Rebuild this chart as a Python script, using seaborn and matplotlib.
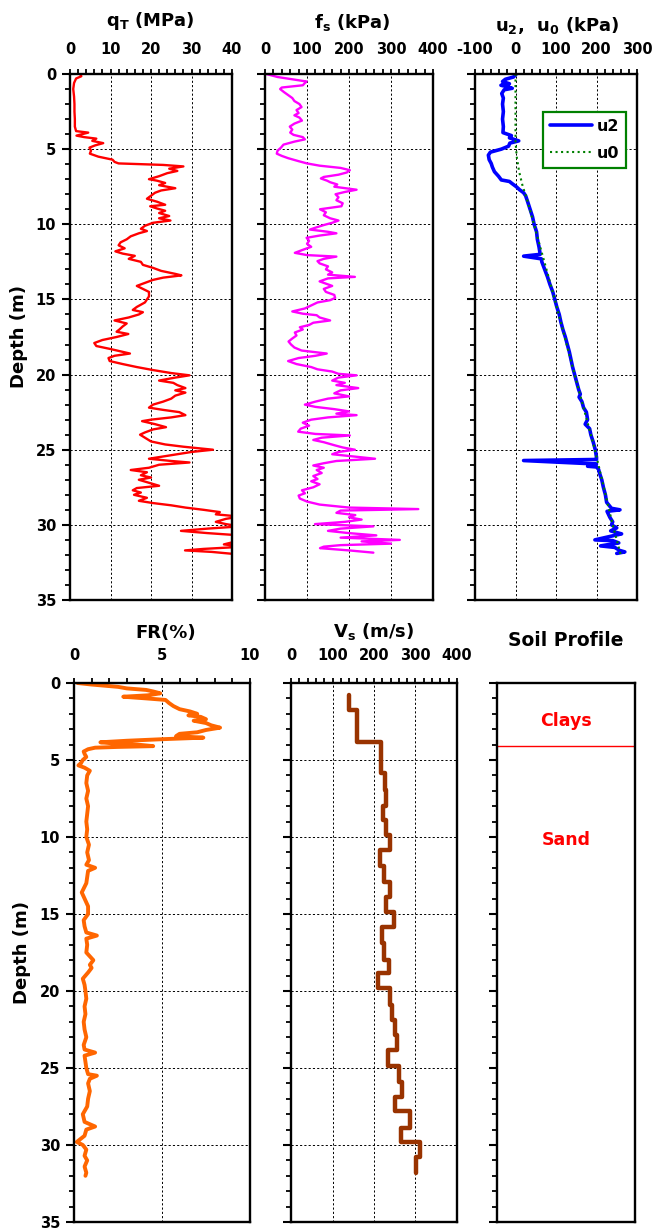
import numpy as np
import pandas as pd
import matplotlib
matplotlib.use('Agg')
import matplotlib.pyplot as plt
from matplotlib.ticker import MultipleLocator
import seaborn as sns

# ---------------- data ----------------
qt_depth = [0.0, 0.15, 0.3, 0.6, 1.0, 1.5, 2.0, 2.5, 3.0, 3.5, 3.8, 3.9, 4.0, 4.1, 4.2, 4.3, 4.45, 4.6, 4.75, 4.9,
            5.1, 5.3, 5.5, 5.7, 5.85, 5.95, 6.05, 6.15, 6.3, 6.45, 6.6, 6.8, 7.0, 7.1, 7.25, 7.4, 7.6, 7.75, 7.9,
            8.1, 8.3, 8.5, 8.7, 8.8, 8.95, 9.1, 9.25, 9.45, 9.6, 9.75, 9.9, 10.1, 10.3, 10.45, 10.6, 10.8, 11.0,
            11.2, 11.4, 11.6, 11.8, 11.95, 12.1, 12.3, 12.5, 12.7, 12.9, 13.1, 13.3, 13.4, 13.55, 13.7, 13.9, 14.1,
            14.3, 14.5, 14.8, 15.0, 15.2, 15.5, 15.7, 15.85, 16.0, 16.2, 16.4, 16.6, 16.8, 17.0, 17.15, 17.3, 17.5,
            17.7, 17.9, 18.1, 18.3, 18.6, 18.75, 18.9, 19.1, 19.3, 19.5, 19.7, 19.9, 20.05, 20.2, 20.4, 20.55,
            20.7, 20.9, 21.05, 21.2, 21.4, 21.6, 21.8, 22.0, 22.2, 22.35, 22.5, 22.7, 22.85, 23.0, 23.1, 23.3,
            23.5, 23.65, 23.85, 24.0, 24.2, 24.45, 24.65, 24.8, 25.0, 25.15, 25.3, 25.45, 25.6, 25.75, 25.85,
            26.0, 26.2, 26.35, 26.5, 26.7, 26.85, 27.0, 27.2, 27.4, 27.55, 27.7, 27.85, 28.0, 28.2, 28.4, 28.55,
            28.7, 28.85, 29.0, 29.15, 29.3, 29.45, 29.6, 29.8, 29.95, 30.1, 30.25, 30.4, 30.55, 30.7, 30.9, 31.1,
            31.3, 31.45, 31.6, 31.7, 31.8, 31.95, 32.05]
qt_mpa = [2.5, 2.8, 1.5, 1.0, 0.8, 1.0, 1.1, 1.1, 1.2, 1.2, 1.5, 4.5, 3.0, 1.6, 3.5, 6.5, 5.5, 8.2, 6.2, 4.8,
          5.2, 4.9, 7.0, 10.5, 11.0, 12.0, 23.0, 28.0, 24.5, 26.5, 24.0, 22.0, 19.5, 21.5, 23.5, 22.0, 26.0, 22.5, 21.0,
          20.0, 19.0, 21.5, 23.5, 19.8, 21.5, 23.5, 22.0, 24.5, 22.0, 24.8, 20.5, 18.5, 17.5, 19.0, 17.0, 15.0, 14.0,
          12.5, 12.0, 13.5, 11.2, 13.0, 16.0, 14.5, 17.5, 18.0, 20.5, 22.5, 26.0, 27.5, 23.0, 20.5, 18.5, 16.5,
          18.0, 19.5, 19.5, 19.0, 18.5, 16.5, 15.5, 18.0, 17.0, 14.5, 11.0, 14.0, 13.0, 12.2, 11.5, 14.4, 11.5,
          8.0, 6.0, 6.5, 10.0, 14.8, 11.0, 9.5, 9.8, 13.0, 16.5, 20.5, 25.0, 29.5, 26.0, 22.0, 25.5,
          26.5, 28.5, 26.0, 28.5, 26.0, 25.0, 23.0, 20.5, 19.5, 23.0, 27.0, 28.5, 25.0, 20.0, 17.8, 21.0,
          23.7, 20.5, 18.5, 17.3, 18.5, 20.0, 23.5, 28.0, 35.3, 30.0, 26.5, 23.0, 19.5, 25.0, 29.5,
          22.0, 19.5, 15.0, 19.0, 17.5, 20.0, 17.0, 19.5, 22.0, 16.5, 15.5, 17.5, 15.8, 19.0, 17.0, 20.5,
          25.0, 28.5, 33.0, 37.0, 36.0, 42.0, 38.5, 36.0, 38.5, 42.0, 34.0, 27.4, 34.0, 42.0, 43.0, 41.0,
          38.0, 43.0, 33.0, 28.4, 35.0, 41.0, 42.0]

fs_depth = [0.0, 0.2, 0.4, 0.5, 0.6, 0.75, 0.9, 1.0, 1.2, 1.4, 1.6, 1.8, 2.0, 2.2, 2.4, 2.6, 2.75, 2.9, 3.1, 3.3,
            3.5, 3.7, 3.9, 4.05, 4.2, 4.35, 4.5, 4.7, 4.9, 5.1, 5.3, 5.45, 5.6, 5.8, 5.95, 6.1, 6.25, 6.4, 6.55,
            6.7, 6.85, 6.95, 7.1, 7.2, 7.35, 7.5, 7.7, 7.85, 8.0, 8.2, 8.4, 8.6, 8.8, 9.0, 9.2, 9.4, 9.6, 9.75,
            9.9, 10.05, 10.2, 10.35, 10.5, 10.6, 10.75, 10.9, 11.1, 11.3, 11.5, 11.7, 11.9, 12.05, 12.15, 12.3,
            12.45, 12.6, 12.8, 13.0, 13.2, 13.35, 13.5, 13.6, 13.8, 14.0, 14.1, 14.3, 14.5, 14.7, 14.9, 15.05,
            15.2, 15.4, 15.6, 15.8, 15.95, 16.05, 16.2, 16.4, 16.55, 16.7, 16.85, 17.0, 17.2, 17.4, 17.6, 17.8,
            18.0, 18.2, 18.4, 18.6, 18.75, 18.9, 19.1, 19.3, 19.5, 19.65, 19.8, 19.95, 20.05, 20.2, 20.4, 20.55,
            20.7, 20.9, 21.05, 21.25, 21.45, 21.6, 21.8, 22.0, 22.15, 22.3, 22.45, 22.6, 22.7, 22.85, 23.0, 23.2,
            23.4, 23.6, 23.8, 23.95, 24.05, 24.2, 24.35, 24.5, 24.7, 24.85, 25.0, 25.15, 25.3, 25.45, 25.6, 25.75,
            25.9, 26.05, 26.2, 26.35, 26.55, 26.75, 26.95, 27.1, 27.3, 27.5, 27.7, 27.9, 28.05, 28.25, 28.45,
            28.65, 28.85, 28.95, 29.05, 29.2, 29.35, 29.5, 29.65, 29.8, 29.95, 30.1, 30.25, 30.4, 30.55, 30.7,
            30.85, 31.0, 31.1, 31.25, 31.35, 31.45, 31.55, 31.7, 31.85]
fs_kpa = [3, 30, 75, 99, 95, 90, 40, 36, 45, 55, 65, 70, 82, 87, 75, 80, 70, 82, 88, 70,
          59, 65, 60, 68, 90, 95, 70, 44, 38, 30, 28, 40, 55, 80, 100, 130, 180, 202, 195,
          175, 140, 133, 148, 155, 172, 165, 218, 190, 168, 175, 170, 185, 182, 131, 145, 140, 155, 175,
          160, 140, 123, 107, 150, 170, 130, 99, 105, 100, 110, 90, 71, 100, 170, 140,
          125, 130, 150, 145, 160, 150, 214, 150, 130, 150, 160, 140, 145, 165, 167, 155,
          125, 110, 95, 65, 90, 123, 130, 155, 115, 105, 83, 90, 71, 75, 65, 56,
          62, 70, 87, 147, 120, 80, 55, 75, 110, 125, 160, 175, 218, 175, 160, 190,
          170, 222, 180, 165, 200, 150, 120, 95, 120, 165, 200, 170, 218, 150, 110, 90,
          105, 85, 79, 120, 202, 135, 115, 140, 165, 185, 214, 175, 160, 210, 262, 170,
          140, 115, 140, 123, 135, 115, 125, 110, 130, 115, 88, 95, 80, 83, 100,
          130, 200, 365, 180, 170, 215, 200, 230, 190, 119, 258, 180, 150, 200, 265,
          180, 321, 230, 300, 180, 140, 131, 200, 258]

u2_depth = [0.0, 0.2, 0.35, 0.5, 0.65, 0.75, 0.85, 0.95, 1.05, 1.3, 1.6, 2.0, 2.5, 3.0, 3.5, 3.9, 4.1, 4.25,
            4.45, 4.6, 4.8, 5.0, 5.2, 5.4, 5.7, 5.95, 6.2, 6.5, 6.8, 7.05, 7.15, 7.3, 7.5, 7.7, 7.9, 8.1, 8.5,
            9.0, 9.5, 10.0, 10.5, 11.0, 11.5, 12.0, 12.12, 12.3, 12.5, 13.0, 13.5, 14.0, 14.5, 15.0, 15.5, 16.0,
            16.5, 17.0, 17.5, 18.0, 18.5, 19.0, 19.5, 20.0, 20.5, 21.0, 21.3, 21.5, 21.8, 22.2, 22.5, 23.0,
            23.3, 23.6, 24.0, 24.5, 25.0, 25.5, 25.65, 25.72, 25.95, 26.1, 26.15, 26.3, 26.6,
            27.0, 27.5, 28.0, 28.5, 28.9, 29.0, 29.1, 29.5, 29.8, 30.0, 30.2, 30.4, 30.6, 30.7, 31.0, 31.05,
            31.2, 31.4, 31.5, 31.7, 31.8, 31.9]
u2_kpa = [2, -5, -25, -32, -15, -36, -20, -8, -28, -34, -30, -32, -30, -32, -30, -31, -10, -15,
          8, -14, -17, -35, -62, -67, -65, -60, -57, -52, -42, -35, -15, -8, 2, 10, 20, 25, 30,
          36, 42, 46, 52, 54, 58, 61, 20, 64, 65, 72, 79, 85, 92, 97, 102, 108,
          112, 117, 123, 128, 133, 137, 141, 146, 151, 156, 160, 157, 164, 168, 175, 178,
          172, 183, 186, 192, 197, 200, 200, 20, 200, 178, 200, 205, 208,
          213, 217, 222, 225, 237, 258, 226, 233, 240, 237, 250, 235, 262, 245, 196, 240,
          255, 210, 245, 257, 270, 250]

u0_depth = [0.0, 4.5, 5.5, 6.5, 7.5, 8.2, 15.0, 20.0, 25.0, 30.0, 32.0]
u0_kpa = [0, 0, 3, 9, 18, 27, 97, 146, 196, 240, 260]

fr_depth = [0.0, 0.1, 0.25, 0.35, 0.45, 0.55, 0.67, 0.8, 0.89, 0.95, 1.0, 1.1, 1.3, 1.5, 1.7, 1.85, 2.0, 2.1,
            2.2, 2.35, 2.45, 2.6, 2.75, 2.9, 3.05, 3.2, 3.3, 3.45, 3.55, 3.65, 3.75, 3.85, 3.95, 4.0, 4.1, 4.15,
            4.2, 4.3, 4.45, 4.6, 4.8, 5.0, 5.2, 5.35, 5.5, 5.7, 6.0, 6.5, 7.0, 7.5, 8.0, 8.5, 9.0, 9.5, 10.0,
            10.5, 11.0, 11.5, 11.8, 12.0, 12.2, 12.6, 13.0, 13.6, 14.0, 14.5, 15.0, 15.4, 15.8, 16.2, 16.4, 16.6,
            17.0, 17.5, 18.0, 18.3, 18.5, 18.8, 19.2, 19.6, 20.0, 20.5, 21.0, 21.5, 22.0, 22.5, 23.0, 23.5, 23.8,
            24.0, 24.2, 24.6, 25.0, 25.4, 25.5, 25.7, 26.0, 26.5, 27.0, 27.5, 28.0, 28.5, 28.8, 29.0, 29.4, 29.8,
            30.0, 30.3, 30.7, 31.0, 31.4, 31.8, 32.0]
fr_pct = [0.2, 1.0, 2.5, 3.0, 4.1, 4.5, 4.9, 4.2, 2.8, 3.5, 4.1, 5.2, 5.4, 5.65, 6.0, 6.6, 7.0, 6.5,
          7.2, 7.5, 6.8, 7.5, 7.8, 8.3, 7.5, 7.0, 6.0, 5.8, 7.35, 5.0, 3.0, 1.5, 2.5, 3.6, 4.5, 2.5,
          1.2, 0.8, 0.55, 0.6, 0.7, 0.5, 0.4, 0.25, 0.6, 0.9, 0.75, 0.7, 0.8, 0.7, 0.8, 0.75, 0.7, 0.75, 0.7,
          0.85, 0.75, 0.85, 0.7, 1.2, 0.8, 0.75, 0.7, 0.44, 0.6, 0.8, 0.8, 0.55, 0.6, 0.7, 1.3, 0.7,
          0.75, 0.7, 1.1, 0.9, 1.0, 0.8, 0.5, 0.6, 0.65, 0.7, 0.6, 0.65, 0.55, 0.6, 0.7, 0.55, 0.6,
          1.2, 0.6, 0.65, 0.7, 0.8, 1.3, 0.9, 0.8, 0.9, 0.8, 0.75, 0.5, 0.6, 1.2, 0.7, 0.6, 0.16,
          0.5, 0.7, 0.6, 0.75, 0.6, 0.7, 0.65]

vs_top = [0.78, 1.75, 3.8, 5.87, 6.95, 8.0, 8.9, 9.9, 10.84, 11.9, 12.9, 13.9, 14.85, 15.85, 16.9, 17.98,
          18.85, 19.8, 20.9, 21.9, 22.85, 23.8, 24.9, 25.9, 26.9, 27.8, 28.9, 29.8, 30.8]
vs_val = [139, 160, 218, 226, 230, 222, 230, 239, 214, 223, 239, 230, 247, 219, 223, 237,
          209, 239, 243, 251, 255, 233, 261, 267, 251, 286, 265, 310, 301]
vs_bottom_end = 31.8

soil_layers = ['Clays', 'Sand']
soil_label_depth = [2.5, 10.2]
soil_boundary = [4.1]

# ---------------- style ----------------
sns.set_style('ticks')
plt.rcParams['font.family'] = ['DejaVu Sans']
plt.rcParams['font.weight'] = 'bold'
plt.rcParams['mathtext.default'] = 'bf'
plt.rcParams['axes.unicode_minus'] = False
for k in ['text.color', 'axes.labelcolor', 'xtick.color', 'ytick.color', 'axes.edgecolor']:
    plt.rcParams[k] = 'black'

W, H = 652, 1230
fig = plt.figure(figsize=(W / 100, H / 100), dpi=100)


def add_ax(l, t, r, b):
    return fig.add_axes([l / W, 1 - b / H, (r - l) / W, (b - t) / H])


def style(ax, xlim, xmaj, xmin, ylabels, pad):
    ax.set_ylim(35, 0)
    ax.set_xlim(*xlim)
    ax.xaxis.tick_top()
    ax.xaxis.set_major_locator(MultipleLocator(xmaj))
    ax.xaxis.set_minor_locator(MultipleLocator(xmin))
    ax.yaxis.set_major_locator(MultipleLocator(5))
    ax.yaxis.set_minor_locator(MultipleLocator(1))
    ax.tick_params(axis='x', which='both', direction='out', length=3.6, width=1.3, pad=pad,
                   labelsize=10.5, top=True, bottom=False, labeltop=True, labelbottom=False,
                   colors='black')
    ax.tick_params(axis='y', which='major', direction='out', length=6, width=1.5, labelsize=10.5, pad=4,
                   left=True, right=False, colors='black')
    ax.tick_params(axis='y', which='minor', direction='out', length=3.6, width=1.3, left=True, right=False,
                   colors='black')
    if not ylabels:
        ax.tick_params(axis='y', labelleft=False)
    for s in ax.spines.values():
        s.set_linewidth(1.7)
        s.set_color('black')
        s.set_visible(True)
    ax.grid(True, which='major', color='black', linestyle=(0, (2.2, 2.2)), linewidth=0.7)
    ax.set_axisbelow(True)
    ax.set_xlabel('')
    ax.set_ylabel('')


# ---- top row ----
ax1 = add_ax(70, 74, 232, 600)
sns.lineplot(x=qt_mpa, y=qt_depth, sort=False, estimator=None, color='#FF0000', linewidth=1.7, ax=ax1)
style(ax1, (0, 40), 10, 2, True, 8.5)

ax2 = add_ax(265, 74, 433, 600)
sns.lineplot(x=fs_kpa, y=fs_depth, sort=False, estimator=None, color='#FF00FF', linewidth=1.7, ax=ax2)
style(ax2, (0, 400), 100, 20, False, 8.5)

ax3 = add_ax(475, 74, 637, 600)
sns.lineplot(x=u2_kpa, y=u2_depth, sort=False, estimator=None, color='#0000FF', linewidth=2.6, ax=ax3,
             label='u2')
sns.lineplot(x=u0_kpa, y=u0_depth, sort=False, estimator=None, color='#008000', linewidth=1.5,
             linestyle=':', ax=ax3, label='u0')
style(ax3, (-100, 300), 100, 20, False, 8.5)
leg = ax3.legend(loc='upper left', bbox_to_anchor=(0.42, 0.928), borderaxespad=0, frameon=True,
                 fancybox=False, edgecolor='#008000', framealpha=1, fontsize=11.5, handlelength=2.6,
                 handletextpad=0.3, labelspacing=0.75, borderpad=0.45)
leg.get_frame().set_linewidth(1.6)
for t in leg.get_texts():
    t.set_fontweight('bold')
    t.set_color('black')

# ---- bottom row ----
ax4 = add_ax(74, 683, 250, 1222)
sns.lineplot(x=fr_pct, y=fr_depth, sort=False, estimator=None, color='#FF6600', linewidth=2.8, ax=ax4)
style(ax4, (0, 10), 5, 1, True, 11)

ax5 = add_ax(291, 683, 457, 1222)
vs_bot = vs_top[1:] + [vs_bottom_end]
vx, vy = [], []
for v, t, b in zip(vs_val, vs_top, vs_bot):
    vx += [v, v]
    vy += [t, b]
sns.lineplot(x=vx, y=vy, sort=False, estimator=None, color='#993300', linewidth=3.2, ax=ax5)
style(ax5, (0, 400), 100, 20, False, 11)

ax6 = add_ax(497, 683, 635, 1222)
ax6.set_xlim(0, 1)
ax6.set_ylim(35, 0)
ax6.yaxis.set_major_locator(MultipleLocator(5))
ax6.yaxis.set_minor_locator(MultipleLocator(1))
ax6.set_xticks([])
ax6.tick_params(axis='y', which='major', direction='out', length=6, width=1.5, labelleft=False, left=True,
                colors='black')
ax6.tick_params(axis='y', which='minor', direction='out', length=3.6, width=1.3, left=True, colors='black')
for s in ax6.spines.values():
    s.set_linewidth(1.7)
    s.set_color('black')
    s.set_visible(True)
for d in soil_boundary:
    ax6.axhline(d, color='#FF0000', linewidth=1.0)
for name, d in zip(soil_layers, soil_label_depth):
    ax6.text(0.5, d, name, color='#FF0000', fontsize=12.5, fontweight='bold', ha='center', va='center')


# ---- titles ----
def ftext(x, y, s, **kw):
    fig.text(x / W, 1 - y / H, s, fontweight='bold', color='black', **kw)


ftext(150, 26, r'q$_{T}$ (MPa)', fontsize=13, ha='center', va='baseline')
ftext(352, 28, r'f$_{s}$ (kPa)', fontsize=13, ha='center', va='baseline')
ftext(557, 31, r'u$_{2}$,  u$_{0}$ (kPa)', fontsize=13, ha='center', va='baseline')
ftext(166, 638, 'FR(%)', fontsize=13, ha='center', va='baseline')
ftext(374, 637, r'V$_{s}$ (m/s)', fontsize=13, ha='center', va='baseline')
ftext(566, 646, 'Soil Profile', fontsize=13.5, ha='center', va='baseline')
ftext(19, 337, 'Depth (m)', fontsize=13, ha='center', va='center', rotation=90)
ftext(22, 952, 'Depth (m)', fontsize=13, ha='center', va='center', rotation=90)

fig.savefig('out.png', dpi=100)
